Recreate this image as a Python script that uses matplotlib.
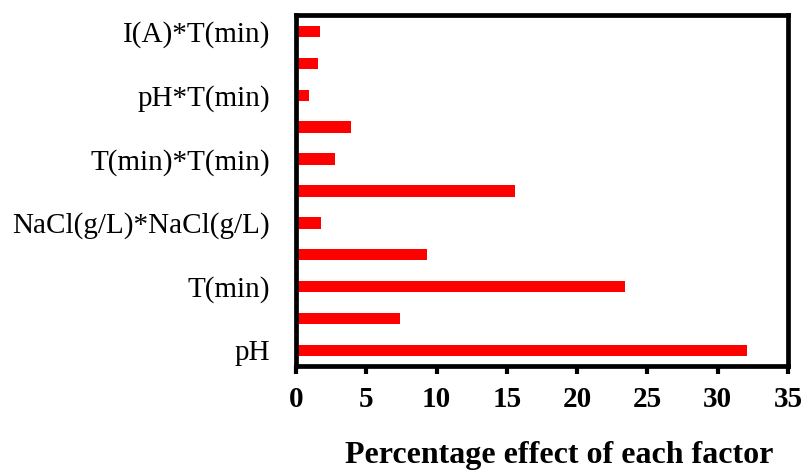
import matplotlib
matplotlib.use("Agg")
import matplotlib.pyplot as plt
import numpy as np

categories = ["pH", "NaCl(g/L)", "T(min)", "I(A)", "NaCl(g/L)*NaCl(g/L)",
              "pH*pH", "T(min)*T(min)", "I(A)*I(A)", "pH*T(min)",
              "NaCl(g/L)*T(min)", "I(A)*T(min)"]
values = [32.05, 7.4, 23.4, 9.3, 1.8, 15.55, 2.8, 3.9, 0.95, 1.6, 1.7]
xticks = [0, 5, 10, 15, 20, 25, 30, 35]

plt.rcParams['font.family'] = ['Liberation Serif', 'DejaVu Serif']

fig = plt.figure(figsize=(8.05, 4.72), dpi=100)
ax = fig.add_axes([296/805, 1-366/472, (788-296)/805, (366-15)/472])

y = np.arange(len(categories))
ax.barh(y, values, height=0.36, color='#FF0000', zorder=2)

ax.set_xlim(0, 35)
ax.set_ylim(-0.49, 10.52)
ax.set_xticks(xticks)
ax.set_xticklabels([str(t) for t in xticks], fontsize=21, fontweight='bold')
ax.set_yticks(y[::2])
ax.set_yticklabels(categories[::2], fontsize=21)

ax.tick_params(axis='y', length=0, pad=18.5)
ax.tick_params(axis='x', length=5.5, width=3, direction='out', pad=9, top=False)

for s in ax.spines.values():
    s.set_linewidth(3.4)
    s.set_color('black')

fig.text(559/805, 1-456/472, "Percentage effect of each factor",
         ha='center', va='center', fontsize=23, fontweight='bold')

fig.savefig("out.png", dpi=100)
